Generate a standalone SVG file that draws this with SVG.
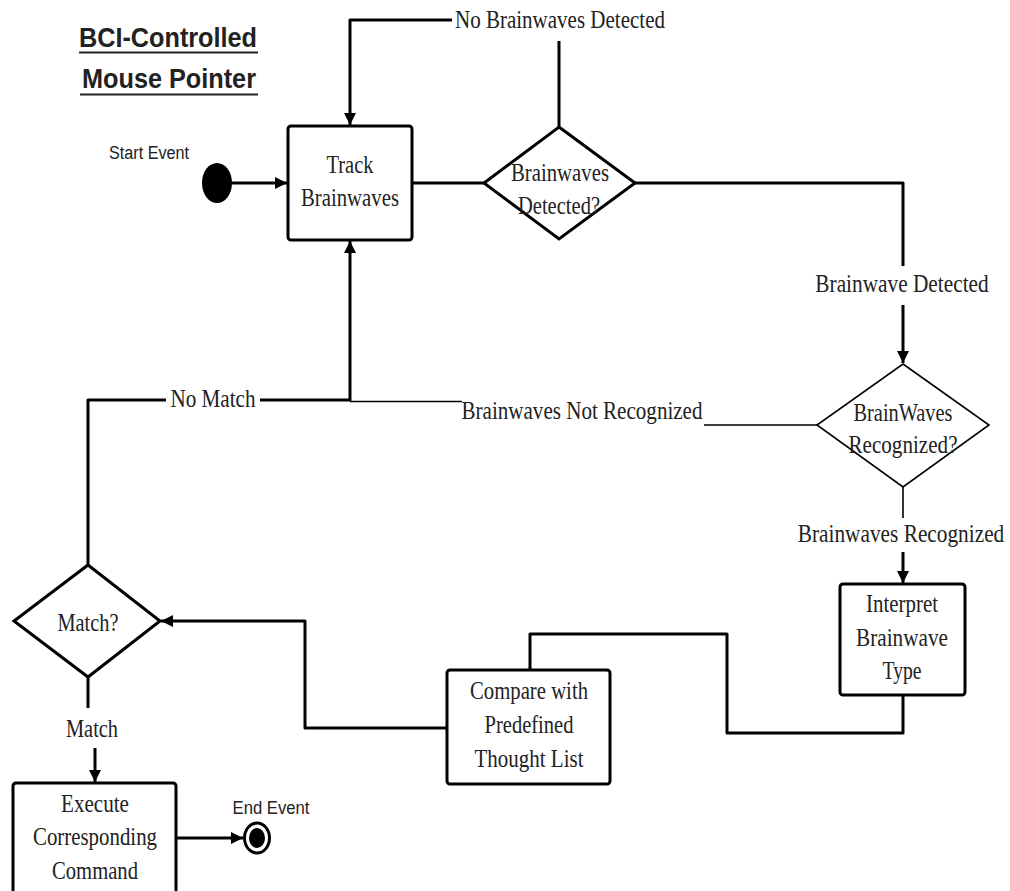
<svg xmlns="http://www.w3.org/2000/svg" width="1010" height="891" viewBox="0 0 1010 891">
<defs>
<style>
.t{font-family:"Liberation Serif",serif;font-size:26px;fill:#222;text-anchor:middle}
.s{font-family:"Liberation Sans",sans-serif;font-size:18px;fill:#222;text-anchor:middle}
.h{font-family:"Liberation Sans",sans-serif;font-size:27px;font-weight:bold;fill:#222;text-anchor:middle}
.box{fill:#fff;stroke:#000;stroke-width:3}
.dia{fill:#fff;stroke:#000;stroke-width:3;stroke-linejoin:miter}
.dia2{fill:#fff;stroke:#000;stroke-width:1.6}
.c{fill:none;stroke:#000;stroke-width:3;stroke-linejoin:round}
.c2{fill:none;stroke:#000;stroke-width:1.6}
</style>
<marker id="ah" viewBox="0 0 10 10" refX="10" refY="5" markerWidth="4" markerHeight="4" markerUnits="strokeWidth" orient="auto">
<path d="M0,0 L10,5 L0,10 z" fill="#000"/>
</marker>
</defs>
<rect width="1010" height="891" fill="#fff"/>
<g id="title">
<text class="h" x="168" y="47" textLength="178" lengthAdjust="spacingAndGlyphs">BCI-Controlled</text>
<line x1="79" y1="52.5" x2="258" y2="52.5" stroke="#222" stroke-width="2.2"/>
<text class="h" x="169" y="88" textLength="174" lengthAdjust="spacingAndGlyphs">Mouse Pointer</text>
<line x1="80" y1="94.5" x2="258" y2="94.5" stroke="#222" stroke-width="2.2"/>
</g>
<g id="connectors">
<line class="c" x1="232" y1="183" x2="287" y2="183" marker-end="url(#ah)"/>
<line class="c" x1="412" y1="183" x2="484" y2="183"/>
<line class="c" x1="559" y1="127" x2="559" y2="41"/>
<path class="c" d="M452,20 L350,20 L350,125" marker-end="url(#ah)"/>
<path class="c" d="M635,183 L903,183 L903,266"/>
<line class="c" x1="903" y1="305" x2="903" y2="363" marker-end="url(#ah)"/>
<line class="c2" x1="903" y1="487" x2="903" y2="518"/>
<line class="c" x1="903" y1="552" x2="903" y2="583" marker-end="url(#ah)"/>
<line class="c2" x1="817" y1="425" x2="704" y2="425"/>
<line class="c2" x1="462" y1="401.5" x2="350" y2="401.5"/>
<path class="c" d="M88,565 L88,400 L166,400"/>
<path class="c" d="M260,400 L350,400 L350,241" marker-end="url(#ah)"/>
<path class="c" d="M903,695 L903,733 L727,733 L727,634 L530,634 L530,670"/>
<path class="c" d="M447,728 L305,728 L305,621 L161,621" marker-end="url(#ah)"/>
<line class="c" x1="88" y1="677" x2="88" y2="708"/>
<line class="c" x1="95" y1="748" x2="95" y2="782" marker-end="url(#ah)"/>
<line class="c" x1="176" y1="838" x2="243" y2="838" marker-end="url(#ah)"/>
</g>
<g id="labels">
<text class="t" x="560" y="28" textLength="210" lengthAdjust="spacingAndGlyphs">No Brainwaves Detected</text>
<text class="t" transform="translate(902,292) scale(0.82,1)" x="0" y="0">Brainwave Detected</text>
<text class="t" x="582" y="419" textLength="241" lengthAdjust="spacingAndGlyphs">Brainwaves Not Recognized</text>
<text class="t" x="213" y="407" textLength="85" lengthAdjust="spacingAndGlyphs">No Match</text>
<text class="t" transform="translate(901,542) scale(0.82,1)" x="0" y="0">Brainwaves Recognized</text>
<text class="t" x="92" y="737" textLength="52" lengthAdjust="spacingAndGlyphs">Match</text>
</g>
<g id="start">
<ellipse cx="217" cy="183" rx="15" ry="20" fill="#000"/>
<text class="s" x="149" y="159" textLength="80" lengthAdjust="spacingAndGlyphs">Start Event</text>
</g>
<g id="track">
<rect class="box" x="288" y="126" width="124" height="114" rx="3"/>
<text class="t" x="350" y="173" textLength="47" lengthAdjust="spacingAndGlyphs">Track</text>
<text class="t" x="350" y="206" textLength="98" lengthAdjust="spacingAndGlyphs">Brainwaves</text>
</g>
<g id="detected">
<polygon class="dia" points="559,127 635,183 559,239 484,183"/>
<text class="t" x="560" y="181" textLength="98" lengthAdjust="spacingAndGlyphs">Brainwaves</text>
<text class="t" x="559" y="214" textLength="82" lengthAdjust="spacingAndGlyphs">Detected?</text>
</g>
<g id="recognized">
<polygon class="dia2" points="903,364 989,425 903,487 817,425"/>
<text class="t" x="903" y="421" textLength="99" lengthAdjust="spacingAndGlyphs">BrainWaves</text>
<text class="t" x="903" y="453" textLength="109" lengthAdjust="spacingAndGlyphs">Recognized?</text>
</g>
<g id="interpret">
<rect class="box" x="840" y="584" width="125" height="111" rx="3"/>
<text class="t" x="902" y="612" textLength="72" lengthAdjust="spacingAndGlyphs">Interpret</text>
<text class="t" x="902" y="646" textLength="92" lengthAdjust="spacingAndGlyphs">Brainwave</text>
<text class="t" x="902" y="679" textLength="39" lengthAdjust="spacingAndGlyphs">Type</text>
</g>
<g id="compare">
<rect class="box" x="447" y="670" width="163" height="114" rx="3"/>
<text class="t" x="529" y="699" textLength="118" lengthAdjust="spacingAndGlyphs">Compare with</text>
<text class="t" x="529" y="733" textLength="89" lengthAdjust="spacingAndGlyphs">Predefined</text>
<text class="t" x="529" y="767" textLength="109" lengthAdjust="spacingAndGlyphs">Thought List</text>
</g>
<g id="match">
<polygon class="dia" points="88,565 160,621 88,677 14,621"/>
<text class="t" x="88" y="631" textLength="61" lengthAdjust="spacingAndGlyphs">Match?</text>
</g>
<g id="execute">
<rect class="box" x="13" y="783" width="163" height="112" rx="3"/>
<text class="t" x="95" y="812" textLength="68" lengthAdjust="spacingAndGlyphs">Execute</text>
<text class="t" x="95" y="845" textLength="124" lengthAdjust="spacingAndGlyphs">Corresponding</text>
<text class="t" x="95" y="879" textLength="86" lengthAdjust="spacingAndGlyphs">Command</text>
</g>
<g id="end">
<ellipse cx="257" cy="838" rx="12.5" ry="15" fill="#fff" stroke="#000" stroke-width="3"/>
<ellipse cx="257" cy="838" rx="8" ry="10" fill="#000"/>
<text class="s" x="271" y="814" textLength="77" lengthAdjust="spacingAndGlyphs">End Event</text>
</g>
</svg>
